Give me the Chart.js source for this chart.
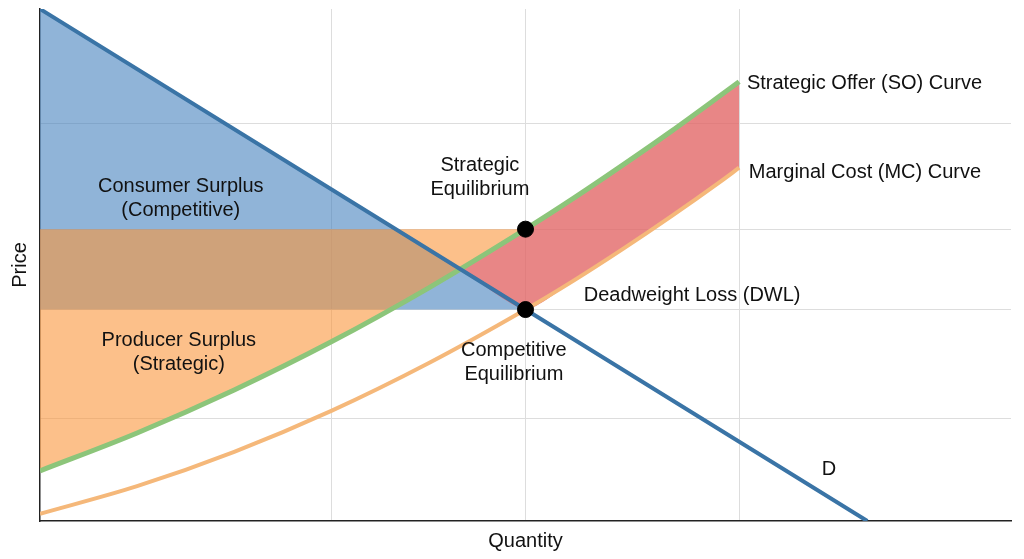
<!DOCTYPE html>
<html><head><meta charset="utf-8">
<script src="https://cdn.jsdelivr.net/npm/chart.js@4/dist/chart.umd.min.js"></script>
<style>html,body{margin:0;padding:0;background:#fff}#w{width:1024px;height:559px}</style>
</head><body><div id="w"><canvas id="c"></canvas></div>
<script>
const demandPts = [{x:0,y:100},{x:50,y:41.3},{x:85.2,y:0}];
const mcPts = [{x:0,y:1.4},{x:10,y:6.8},{x:20,y:13.5},{x:30,y:21.5},{x:40,y:30.8},{x:50,y:41.3},{x:55,y:47.0},{x:60,y:53.1},{x:65,y:59.5},{x:70,y:66.2},{x:72,y:69.0}];
const soPts = [{x:0,y:9.8},{x:10,y:17.2},{x:20,y:25.6},{x:30,y:35.0},{x:40,y:45.5},{x:50,y:57.0},{x:55,y:63.1},{x:60,y:69.5},{x:65,y:76.1},{x:70,y:83.0},{x:72,y:85.8}];
const csPts = [{x:0,y:100},{x:50,y:41.3}];
const psPts = [{x:0,y:9.8},{x:10,y:17.2},{x:20,y:25.6},{x:30,y:35.0},{x:40,y:45.5},{x:50,y:57.0}];
const dwlTop = [{x:43.3,y:49.2},{x:45,y:51.1},{x:50,y:57.0},{x:55,y:63.1},{x:60,y:69.5},{x:65,y:76.1},{x:70,y:83.0},{x:72,y:85.8}];
const dwlBottom = [{x:43.3,y:49.2},{x:50,y:41.3},{x:55,y:47.0},{x:60,y:53.1},{x:65,y:59.5},{x:70,y:66.2},{x:72,y:69.0}];
const eqPts = [{x:50,y:41.3},{x:50,y:57.0}];
const pricePc = 41.3, pricePs = 57.0;
const xGrid = [30,50,72];
const yGrid = [20,41.3,57,77.6];
const labels = [
  {t:["Consumer Surplus","(Competitive)"], x:14.5, y:63, a:"center"},
  {t:["Producer Surplus","(Strategic)"], x:14.3, y:33, a:"center"},
  {t:["Strategic","Equilibrium"], x:45.3, y:67, a:"center"},
  {t:["Competitive","Equilibrium"], x:48.8, y:31, a:"center"},
  {t:["Deadweight Loss (DWL)"], x:56, y:44, a:"left"},
  {t:["Strategic Offer (SO) Curve"], x:72.8, y:85.5, a:"left"},
  {t:["Marginal Cost (MC) Curve"], x:73, y:68, a:"left"},
  {t:["D"], x:80.5, y:10, a:"left"}
];
const textPlugin = {id:'txt', afterDatasetsDraw(ch){
  const c=ch.ctx, xs=ch.scales.x, ys=ch.scales.y;
  c.save(); c.fillStyle='#111'; c.font='20px "Liberation Sans", Arial, sans-serif'; c.textBaseline='middle';
  labels.forEach(l=>{ c.textAlign=l.a; const px=xs.getPixelForValue(l.x), py=ys.getPixelForValue(l.y);
    l.t.forEach((s,i)=>c.fillText(s,px,py+(i-(l.t.length-1)/2)*24)); });
  c.restore();
}};
const line = (data,color,w,extra)=>Object.assign({type:'line',data,borderColor:color,borderWidth:w,pointRadius:0,fill:false,cubicInterpolationMode:'monotone'},extra||{});
new Chart(document.getElementById('c'),{
  data:{datasets:[
    line(csPts,'rgba(0,0,0,0)',0,{order:10,fill:{value:pricePc},backgroundColor:'rgba(70,130,190,0.6)',cubicInterpolationMode:'default',tension:0}),
    line(psPts,'rgba(0,0,0,0)',0,{order:9,fill:{value:pricePs},backgroundColor:'rgba(250,150,60,0.6)'}),
    line(dwlTop,'rgba(0,0,0,0)',0,{order:8,fill:'+1',backgroundColor:'rgba(225,100,100,0.78)'}),
    line(dwlBottom,'rgba(0,0,0,0)',0,{order:7,tension:0.2,cubicInterpolationMode:'default'}),
    line(mcPts,'#f5b87a',4,{order:3}),
    line(soPts,'#8cc57a',5,{order:2}),
    line(demandPts,'#3a74a6',4,{order:1,tension:0,cubicInterpolationMode:'default'}),
    {type:'scatter',order:0,data:eqPts,pointRadius:8,pointBackgroundColor:'#000',pointBorderColor:'#000'}
  ]},
  options:{responsive:true,maintainAspectRatio:false,animation:false,
    layout:{padding:{top:8,right:13,left:4,bottom:2}},
    plugins:{legend:{display:false},tooltip:{enabled:false}},
    scales:{
      x:{type:'linear',min:0,max:100,afterBuildTicks(a){a.ticks=xGrid.map(v=>({value:v}));},
        ticks:{display:false},grid:{color:'#ddd',drawTicks:false},border:{color:'#222',width:1.5},
        title:{display:true,text:'Quantity',color:'#111',font:{size:20,family:'"Liberation Sans", Arial'},padding:{top:8}}},
      y:{type:'linear',min:0,max:100,afterBuildTicks(a){a.ticks=yGrid.map(v=>({value:v}));},
        ticks:{display:false},grid:{color:'#ddd',drawTicks:false},border:{color:'#222',width:1.5},
        title:{display:true,text:'Price',color:'#111',font:{size:20,family:'"Liberation Sans", Arial'},padding:{bottom:8}}}
    }},
  plugins:[textPlugin]
});
</script></body></html>
